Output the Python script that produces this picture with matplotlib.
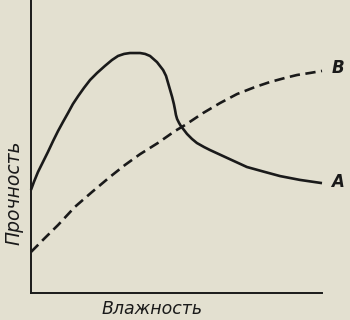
import matplotlib
matplotlib.use("Agg")
import matplotlib.pyplot as plt

# Curve A (solid): strength vs moisture
a_x = [0, 1.0, 2.4, 4.1, 5.8, 7.6, 9.3, 11.0, 12.7, 14.4, 16.2, 18.2, 20.3, 22.7, 25.4,
       27.8, 29.9, 32.0, 34.0, 37.5, 39.2, 40.9, 43.3, 45.4, 46.4, 47.1, 47.8, 48.5, 49.1,
       49.5, 49.8, 50.2, 50.9, 51.5, 52.6, 53.6, 55.3, 57.0, 59.5, 61.5, 67.4, 74.2, 80.4,
       85.6, 92.4, 100]
a_y = [35.2, 37.9, 41.3, 44.7, 48.1, 51.9, 55.3, 58.4, 61.4, 64.5, 67.2, 70.0, 72.7, 75.1, 77.5,
       79.5, 80.9, 81.6, 81.9, 81.9, 81.6, 80.9, 78.8, 76.1, 74.1, 71.7, 69.3, 66.9, 64.5,
       62.5, 60.8, 59.4, 58.0, 57.0, 55.6, 54.3, 52.6, 51.2, 49.8, 48.8, 46.1, 43.0, 41.3,
       39.9, 38.6, 37.5]

# Curve B (dashed)
b_x = [0, 4.8, 9.3, 15.1, 21.0, 27.1, 32.3, 37.5, 43.6, 49.5, 52.9, 59.1, 64.9, 70.8,
       77.0, 82.1, 87.3, 91.4, 95.9, 100]
b_y = [14.0, 18.8, 23.2, 29.4, 34.5, 39.6, 43.7, 47.4, 51.2, 55.3, 57.3, 61.4, 64.8, 67.9,
       70.3, 72.0, 73.4, 74.4, 75.1, 75.8]

curve_labels = ["А", "В"]
x_label = "Влажность"
y_label = "Прочность"

bg = "#e3e0d0"
ink = "#1a1a1a"

fig = plt.figure(figsize=(3.5, 3.2), dpi=100, facecolor=bg)
ax = fig.add_axes([31/350, 27/320, 291/350, 293/320], facecolor=bg)
ax.set_xlim(0, 100)
ax.set_ylim(0, 100)
for s in ["top", "right"]:
    ax.spines[s].set_visible(False)
for s in ["left", "bottom"]:
    ax.spines[s].set_linewidth(1.4)
    ax.spines[s].set_color(ink)
ax.set_xticks([])
ax.set_yticks([])

ax.plot(a_x, a_y, color=ink, lw=1.9, solid_capstyle="butt", solid_joinstyle="round",
        clip_on=False)
ax.plot(b_x, b_y, color=ink, lw=1.9, dashes=(3.9, 2.1), clip_on=False)

ax.text(a_x[-1] + 5.5, a_y[-1] + 0.5, curve_labels[0], fontsize=12, style="italic",
        weight="bold", color=ink, va="center", ha="center", clip_on=False)
ax.text(b_x[-1] + 5.5, b_y[-1] + 1.0, curve_labels[1], fontsize=12, style="italic",
        weight="bold", color=ink, va="center", ha="center", clip_on=False)

fig.text(152/350, 1 - 309/320, x_label, fontsize=12.5, style="italic", color=ink,
         ha="center", va="center")
fig.text(14/350, 1 - 193/320, y_label, fontsize=13.5, style="italic", color=ink,
         ha="center", va="center", rotation=90)

fig.savefig("out.png", dpi=100, facecolor=bg)
